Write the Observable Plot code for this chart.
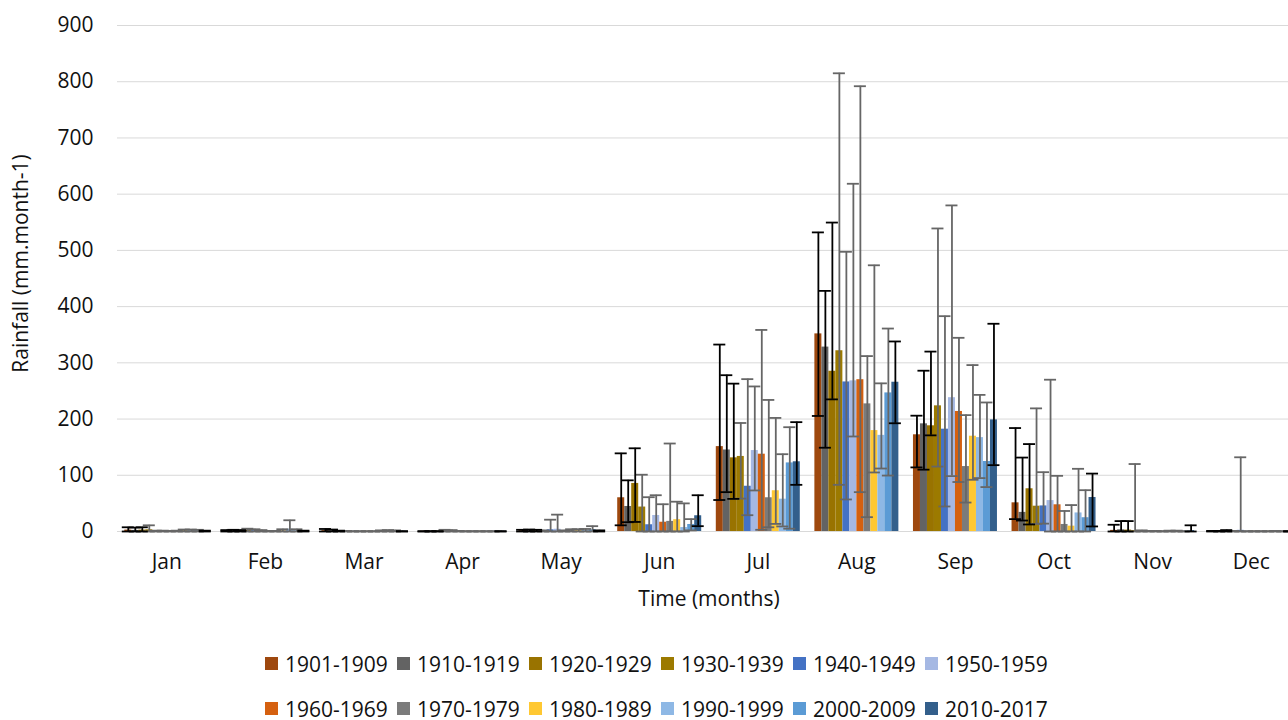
<!DOCTYPE html>
<html>
<head>
<meta charset="utf-8">
<script src="https://cdn.jsdelivr.net/npm/d3@7"></script>
<script src="https://cdn.jsdelivr.net/npm/@observablehq/plot@0.6"></script>
<style>
  body { margin: 0; background: #fff; font-family: "Open Sans", sans-serif; }
  #legend { padding: 16px 0 0 265px; width: 820px; }
  .row { display: flex; height: 45px; align-items: center; }
  .item { width: 132px; display: flex; align-items: center; font-size: 21px; line-height: 24px; color: #111; white-space: nowrap; }
  .sw { width: 13px; height: 13px; margin-right: 7px; flex: none; }
</style>
</head>
<body>
<div id="chart"></div>
<div id="legend"></div>
<script>
// Monthly rainfall by decade (mm per month): decadal mean with error range
const months = ["Jan", "Feb", "Mar", "Apr", "May", "Jun", "Jul", "Aug", "Sep", "Oct", "Nov", "Dec"];
const decades = ["1901-1909", "1910-1919", "1920-1929", "1930-1939", "1940-1949", "1950-1959",
                 "1960-1969", "1970-1979", "1980-1989", "1990-1999", "2000-2009", "2010-2017"];
const barColors = ["#9E480E", "#636363", "#997300", "#9C7A00", "#4472C4", "#A5B8E3",
                   "#D5600F", "#7B7B7B", "#FFC832", "#8EB8E5", "#5B9BD5", "#335F8B"];
const whiskerDark = [true, true, true, false, false, false, false, false, false, false, false, true];

// Values per month, one entry per decade (same order as `decades`)
const meanJan = [2.5, 2, 2.5, 3, 0.5, 0.5, 0.3, 0.5, 1.5, 1.5, 1, 0.5];
const highJan = [7.5, 7, 7.5, 11, 1.5, 1.5, 1, 1.5, 3.5, 3.5, 3, 1.5];
const lowJan  = [0, 0, 0, 0, 0, 0, 0, 0, 0, 0, 0, 0];

const meanFeb = [1, 1.5, 1, 2, 1.5, 1, 0.5, 0.5, 1, 4, 1, 0.5];
const highFeb = [2.5, 3, 2.5, 5, 4, 2.5, 1, 1, 4, 20, 4, 1.5];
const lowFeb  = [0, 0, 0, 0, 0, 0, 0, 0, 0, 0, 0, 0];

const meanMar = [1.5, 1, 0.5, 0.5, 0.3, 0.3, 0.3, 0.3, 0.5, 0.5, 0.5, 0.3];
const highMar = [4.5, 3.5, 1.5, 1, 0.5, 0.5, 0.5, 0.5, 2, 2.5, 2, 0.5];
const lowMar  = [0, 0, 0, 0, 0, 0, 0, 0, 0, 0, 0, 0];

const meanApr = [0.3, 0.3, 0.3, 1, 1, 0.5, 0.3, 0.3, 0.3, 0.3, 0.3, 0.3];
const highApr = [0.5, 0.5, 0.5, 3, 2.5, 1, 0.5, 0.5, 0.5, 0.5, 0.5, 0.5];
const lowApr  = [0, 0, 0, 0, 0, 0, 0, 0, 0, 0, 0, 0];

const meanMay = [1.5, 1.5, 1, 1, 3, 4, 1, 2, 1.5, 2, 3, 1];
const highMay = [3, 3.5, 3, 2, 21, 30, 2, 4, 4, 4.5, 9.5, 2];
const lowMay  = [0, 0, 0, 0, 0, 0, 0, 0, 0, 0, 0, 0];

const meanJun = [60, 44.5, 85.5, 43.5, 12, 28.5, 16.5, 18, 21, 7, 12.5, 28];
const highJun = [139, 91, 148, 101, 61, 64.5, 48.5, 156.5, 53, 50, 22, 64.5];
const lowJun  = [11, 16.5, 17, 0, 0, 0, 0, 0, 0, 0, 2, 9.5];

const meanJul = [151, 145, 131, 133.5, 80.5, 144, 137.5, 60, 72.5, 57.5, 122, 124];
const highJul = [332.5, 278, 263, 193, 271, 258, 358.5, 234, 202, 137.5, 185.5, 194.5];
const lowJul  = [56, 70, 58, 58.5, 29, 73, 3, 7.5, 13.5, 9, 5, 83];

const meanAug = [351.5, 328, 285, 321.5, 266, 268, 270, 227, 179.5, 171, 246.5, 265.5];
const highAug = [532, 428, 549.5, 815, 497.5, 618.5, 792, 312, 473.5, 263.5, 361, 338];
const lowAug  = [205.5, 149, 235, 83, 57, 169, 70, 25.5, 105, 112, 99.5, 192.5];

const meanSep = [172, 191.5, 188, 223.5, 182, 238, 213.5, 115.5, 169.5, 167, 124.5, 198.5];
const highSep = [206, 286, 320, 539, 383, 580, 344.5, 207, 296, 243, 229.5, 369.5];
const lowSep  = [114, 110, 171, 115.5, 44.5, 98.5, 88, 51.5, 92, 95, 79, 118];

const meanOct = [51, 34, 76, 45, 45.5, 55, 47.5, 12.5, 9.5, 33, 24.5, 60.5];
const highOct = [184, 131.5, 155.5, 219, 105.5, 270, 99, 36.5, 47, 111.5, 73.5, 103];
const lowOct  = [22, 19.5, 12.5, 13.5, 14, 0, 0, 0, 0, 0, 0, 9];

const meanNov = [2, 3, 2.5, 1.5, 1, 0.5, 0.5, 0.3, 0.5, 0.5, 0.3, 1.5];
const highNov = [12, 18.5, 18.5, 120, 2, 1, 1, 0.5, 1.5, 1.5, 0.5, 11];
const lowNov  = [0, 0, 0, 0, 0, 0, 0, 0, 0, 0, 0, 0];

const meanDec = [0.5, 0.5, 1, 0.5, 2, 0.3, 0.3, 0.3, 0.3, 0.5, 0.3, 0.3];
const highDec = [1, 1, 2.5, 1, 132, 0.5, 0.5, 0.5, 0.5, 1, 0.5, 0.5];
const lowDec  = [0, 0, 0, 0, 0, 0, 0, 0, 0, 0, 0, 0];

const yTicks = [0, 100, 200, 300, 400, 500, 600, 700, 800, 900];

const means = [meanJan, meanFeb, meanMar, meanApr, meanMay, meanJun, meanJul, meanAug, meanSep, meanOct, meanNov, meanDec];
const highs = [highJan, highFeb, highMar, highApr, highMay, highJun, highJul, highAug, highSep, highOct, highNov, highDec];
const lows  = [lowJan, lowFeb, lowMar, lowApr, lowMay, lowJun, lowJul, lowAug, lowSep, lowOct, lowNov, lowDec];

// One row per (month, decade)
const rows = [];
means.forEach((arr, m) => arr.forEach((v, d) => rows.push({
  m, d, month: months[m], decade: decades[d], mean: v, high: highs[m][d], low: lows[m][d]
})));

// Bars of a month sit side by side inside its unit-wide slot on the x axis
const barW = 0.071;                       // bar width in month units
const groupHalf = barW * decades.length / 2;
const capHalf = 0.061;                    // half width of whisker caps
const left = r => r.m - groupHalf + r.d * barW;
const mid = r => left(r) + barW / 2;

const dark = rows.filter(r => whiskerDark[r.d]);
const grey = rows.filter(r => !whiskerDark[r.d]);

function whiskers(data, stroke) {
  const o = {stroke, strokeWidth: 1.8};
  return [
    Plot.ruleX(data, {x: mid, y1: "low", y2: "high", ...o}),
    Plot.ruleY(data, {y: "high", x1: r => mid(r) - capHalf, x2: r => mid(r) + capHalf, ...o}),
    Plot.ruleY(data, {y: "low", x1: r => mid(r) - capHalf, x2: r => mid(r) + capHalf, ...o})
  ];
}

const chart = Plot.plot({
  width: 1288,
  height: 625,
  marginLeft: 117,
  marginRight: 0,
  marginTop: 25,
  marginBottom: 94,
  style: {fontFamily: "'Open Sans', sans-serif", fontSize: "21px", color: "#111", background: "#fff"},
  x: {type: "linear", domain: [-0.5, 11.5], range: [117, 1300]},
  y: {domain: [0, 900]},
  color: {domain: decades, range: barColors},
  marks: [
    Plot.gridY(yTicks, {stroke: "#d9d9d9", strokeOpacity: 1, strokeWidth: 1}),
    Plot.rectY(rows, {x1: left, x2: r => left(r) + barW, y: "mean", fill: "decade"}),
    ...whiskers(grey, "#666"),
    ...whiskers(dark, "#000"),
    Plot.axisY({ticks: yTicks, tickSize: 0, tickPadding: 24, fontSize: 21, label: null}),
    Plot.axisX({ticks: d3.range(12), tickFormat: i => months[i], tickSize: 0, tickPadding: 23, fontSize: 21, label: null}),
    Plot.text(["Time (months)"], {x: () => 5.5, frameAnchor: "bottom", text: d => d, dy: 68,
      textAnchor: "middle", lineAnchor: "middle", fontSize: 21}),
    Plot.text(["Rainfall (mm.month-1)"], {frameAnchor: "left", text: d => d, rotate: -90, dx: -96, dy: -15,
      textAnchor: "middle", lineAnchor: "middle", fontSize: 21})
  ]
});
document.getElementById("chart").append(chart);

// Two-row swatch legend under the chart
const legend = d3.select("#legend");
[decades.slice(0, 6), decades.slice(6)].forEach((group, gi) => {
  const row = legend.append("div").attr("class", "row");
  group.forEach((name, i) => {
    const item = row.append("div").attr("class", "item");
    item.append("span").attr("class", "sw").style("background", barColors[gi * 6 + i]);
    item.append("span").text(name);
  });
});
</script>
</body>
</html>
